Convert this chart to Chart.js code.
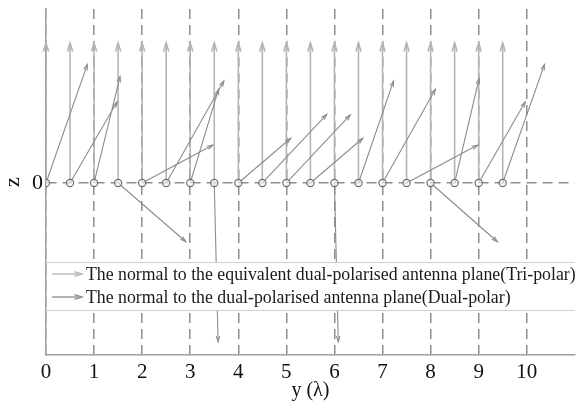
<!DOCTYPE html>
<html>
<head>
<meta charset="utf-8">
<script src="https://cdn.jsdelivr.net/npm/chart.js@4/dist/chart.umd.min.js"></script>
<style>
  body { margin: 0; background: #fff; }
  #wrap { width: 580px; height: 403px; }
</style>
</head>
<body>
<div id="wrap"><canvas id="normalChart" width="580" height="403"></canvas></div>
<script>
// element positions along y (in wavelengths), all at z = 0
const elemY = [0, 0.5, 1, 1.5, 2, 2.5, 3, 3.5, 4, 4.5, 5, 5.5, 6, 6.5, 7, 7.5, 8, 8.5, 9, 9.5];
// tri-polar normals: straight up
const triEndZ = [2.88, 2.88, 2.88, 2.88, 2.88, 2.88, 2.88, 2.88, 2.88, 2.88,
                 2.88, 2.88, 2.88, 2.88, 2.88, 2.88, 2.88, 2.88, 2.88, 2.88];
// dual-polar normals: tip of each arrow
const dualEndY = [0.86, 1.48, 1.54, 2.91, 3.47, 3.70, 3.59, 3.58, 5.09, 5.84,
                  6.33, 6.59, 6.08, 7.23, 8.10, 8.98, 9.39, 9.01, 9.97, 10.37];
const dualEndZ = [2.44, 1.67, 2.19, -1.21, 0.78, 2.10, 1.93, -3.27, 0.92, 1.41,
                  1.40, 0.92, -3.27, 2.10, 1.93, 0.78, -1.21, 2.15, 1.67, 2.44];
const xTicks = [0, 1, 2, 3, 4, 5, 6, 7, 8, 9, 10];
const zTicks = [0];

const triLabel = 'The normal to the equivalent dual-polarised antenna plane(Tri-polar)';
const dualLabel = 'The normal to the dual-polarised antenna plane(Dual-polar)';

const serif = '"Liberation Serif", "Times New Roman", serif';
const gridGrey = '#8e8e8e';
const triColor = '#b4b4b4';
const dualColor = '#8c8c8c';

// each arrow = start, tip, gap
function arrowData(x0, x1, z1) {
  const out = [];
  for (let i = 0; i < x0.length; i++) {
    out.push({x: x0[i], y: 0}, {x: x1[i], y: z1[i]}, {x: x0[i], y: null});
  }
  return out;
}

function drawHead(ctx, x1, y1, x2, y2, len) {
  const a = Math.atan2(y2 - y1, x2 - x1);
  ctx.beginPath();
  ctx.moveTo(x2 - len * Math.cos(a - 0.3), y2 - len * Math.sin(a - 0.3));
  ctx.lineTo(x2, y2);
  ctx.lineTo(x2 - len * Math.cos(a + 0.3), y2 - len * Math.sin(a + 0.3));
  ctx.stroke();
}

const arrowHeads = {
  id: 'arrowHeads',
  afterDatasetsDraw(chart) {
    const ctx = chart.ctx;
    chart.data.datasets.forEach((ds, i) => {
      if (!ds.arrowSize) return;
      const pts = chart.getDatasetMeta(i).data;
      ctx.save();
      ctx.strokeStyle = ds.borderColor;
      ctx.lineWidth = ds.borderWidth;
      for (let k = 0; k + 1 < pts.length; k += 3) {
        drawHead(ctx, pts[k].x, pts[k].y, pts[k + 1].x, pts[k + 1].y, ds.arrowSize);
      }
      ctx.restore();
    });
  }
};

// legend box sitting inside the plot
const legendBox = {
  id: 'legendBox',
  afterDatasetsDraw(chart) {
    const ctx = chart.ctx;
    const area = chart.chartArea;
    const top = 262, bottom = 310;
    ctx.save();
    ctx.fillStyle = '#fff';
    ctx.fillRect(area.left + 1, top, area.right - area.left, bottom - top);
    ctx.strokeStyle = '#cfcfcf';
    ctx.lineWidth = 1;
    ctx.beginPath();
    ctx.moveTo(area.left, top + 0.5); ctx.lineTo(area.right, top + 0.5);
    ctx.moveTo(area.left, bottom + 0.5); ctx.lineTo(area.right, bottom + 0.5);
    ctx.stroke();
    const rows = [[triLabel, triColor, 274], [dualLabel, dualColor, 297]];
    ctx.font = '17.8px ' + serif;
    ctx.textBaseline = 'middle';
    rows.forEach(([txt, col, y]) => {
      ctx.strokeStyle = col;
      ctx.lineWidth = 1.3;
      ctx.beginPath();
      ctx.moveTo(52, y); ctx.lineTo(82, y);
      ctx.stroke();
      drawHead(ctx, 52, y, 82, y, 8);
      ctx.fillStyle = '#1a1a1a';
      ctx.fillText(txt, 86, y + 1);
    });
    ctx.restore();
  }
};

new Chart(document.getElementById('normalChart'), {
  type: 'scatter',
  data: {
    datasets: [
      {
        label: 'elements',
        data: elemY.map(v => ({x: v, y: 0})),
        pointRadius: 3.6,
        pointBorderWidth: 1.2,
        pointBorderColor: '#707070',
        pointBackgroundColor: 'rgba(255,255,255,0.6)',
        showLine: false
      },
      {
        label: dualLabel,
        data: arrowData(elemY, dualEndY, dualEndZ),
        showLine: true,
        spanGaps: false,
        borderColor: dualColor,
        borderWidth: 1.1,
        pointRadius: 0,
        arrowSize: 6
      },
      {
        label: triLabel,
        data: arrowData(elemY, elemY, triEndZ),
        showLine: true,
        spanGaps: false,
        borderColor: triColor,
        borderWidth: 1.6,
        pointRadius: 0,
        arrowSize: 9
      }
    ]
  },
  options: {
    responsive: false,
    animation: false,
    layout: { padding: { top: 9, right: 0, left: 0, bottom: 0 } },
    plugins: {
      legend: { display: false },
      tooltip: { enabled: false }
    },
    scales: {
      x: {
        type: 'linear',
        min: 0,
        max: 11,
        afterBuildTicks: s => { s.ticks = xTicks.map(v => ({value: v})); },
        afterFit: s => { s.height = 48; s.paddingRight = 0; },
        grid: { color: gridGrey, lineWidth: 1.5, drawTicks: false },
        border: { display: true, color: '#a0a0a0', width: 1.5, dash: [10, 6] },
        ticks: { padding: 5, color: '#111', font: { family: serif, size: 21 } },
        title: {
          display: true,
          text: 'y (λ)',
          color: '#111',
          font: { family: serif, size: 20 },
          padding: { top: 0, bottom: 0 }
        }
      },
      y: {
        type: 'linear',
        min: -3.54,
        max: 3.58,
        afterBuildTicks: s => { s.ticks = zTicks.map(v => ({value: v})); },
        afterFit: s => { s.width = 46; s.paddingTop = 0; s.paddingBottom = 0; },
        grid: { color: gridGrey, lineWidth: 1.5, drawTicks: false },
        border: { display: true, color: '#a0a0a0', width: 1.5, dash: [10, 6] },
        ticks: { padding: 3, color: '#111', font: { family: serif, size: 22 } },
        title: {
          display: true,
          text: 'z',
          color: '#111',
          font: { family: serif, size: 22 },
          padding: { top: 0, bottom: 0 }
        }
      }
    }
  },
  plugins: [arrowHeads, legendBox]
});
</script>
</body>
</html>
